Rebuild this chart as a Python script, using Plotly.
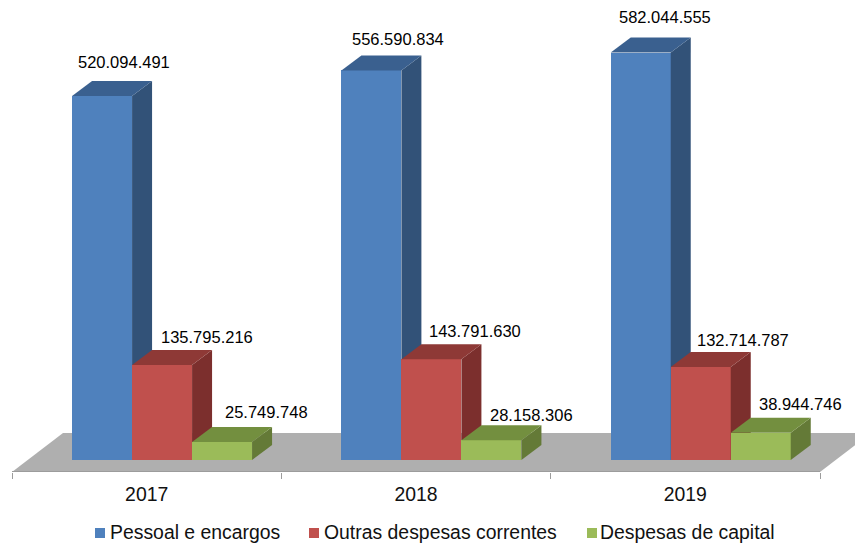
import plotly.graph_objects as go

years = ["2017", "2018", "2019"]
series_names = ["Pessoal e encargos", "Outras despesas correntes", "Despesas de capital"]
pessoal = [520094491, 556590834, 582044555]
outras = [135795216, 143791630, 132714787]
capital = [25749748, 28158306, 38944746]
labels_pessoal = ["520.094.491", "556.590.834", "582.044.555"]
labels_outras = ["135.795.216", "143.791.630", "132.714.787"]
labels_capital = ["25.749.748", "28.158.306", "38.944.746"]

front_colors = ["#4F81BD", "#C0504D", "#9BBB59"]
side_colors = ["#325278", "#7C2F2D", "#647A37"]
top_colors = ["#3A608F", "#8E3936", "#738F3F"]

W, H = 855, 543
PX_X = 269.3            # pixels per category
PX_Y = 0.7 / 1e6        # pixels per unit of value
left_px, right_px = 12, 820
plot_bottom = 472
baseline_px = 460
bar_w = 60 / PX_X
bar_offsets = [-44.6 / PX_X, 15.4 / PX_X, 75.4 / PX_X]
dx = 20 / PX_X
dy = 15 / PX_Y
x_min = -0.5 - left_px / PX_X
x_max = 2.5 + (W - right_px) / PX_X
y_min = -(plot_bottom - baseline_px) / PX_Y
y_max = baseline_px / PX_Y

# per-label shift in pixels from the rear top corner of each bar
label_dx = [[1.6, 6.6, 4.6], [24.6, 23.6, 22.1], [24.1, 20.1, 20.1]]
label_dy = [[19, 16, 21], [13, 13, 12], [15, 10, 14]]

# legend layout, in pixels of the page
legend_swatch_x = [95, 309, 587]
legend_text_x = [107.5, 321.5, 597.5]
legend_y = 532
swatch = 10

fig = go.Figure()
all_values = [pessoal, outras, capital]
all_labels = [labels_pessoal, labels_outras, labels_capital]
for s, (name, vals) in enumerate(zip(series_names, all_values)):
    xs = [i + bar_offsets[s] for i in range(len(years))]
    fig.add_bar(x=xs, y=vals, width=bar_w, name=name, marker_color=front_colors[s],
                marker_line_width=0, zorder=s + 1, hoverinfo="y", showlegend=False)
    for x, v in zip(xs, vals):
        xl, xr = x - bar_w / 2, x + bar_w / 2
        fig.add_scatter(x=[xr, xr + dx, xr + dx, xr, xr], y=[0, dy, v + dy, v, 0], fill="toself",
                        mode="lines", line=dict(width=0), fillcolor=side_colors[s],
                        showlegend=False, hoverinfo="skip", zorder=s + 1)
        fig.add_scatter(x=[xl, xl + dx, xr + dx, xr, xl], y=[v, v + dy, v + dy, v, v], fill="toself",
                        mode="lines", line=dict(width=0), fillcolor=top_colors[s],
                        showlegend=False, hoverinfo="skip", zorder=s + 1)
    for i, (x, v, t) in enumerate(zip(xs, vals, all_labels[s])):
        fig.add_annotation(x=x + dx, y=v + dy, text=t, showarrow=False,
                           xshift=label_dx[s][i], yshift=label_dy[s][i],
                           font=dict(family="Liberation Sans", size=16.5, color="#000000"))
    # legend entry
    to_py = lambda py: (plot_bottom - py) / plot_bottom
    fig.add_shape(type="rect", xref="paper", yref="paper", line_width=0, fillcolor=front_colors[s],
                  x0=legend_swatch_x[s] / W, x1=(legend_swatch_x[s] + swatch) / W,
                  y0=to_py(legend_y + 1 + swatch / 2), y1=to_py(legend_y + 1 - swatch / 2))
    fig.add_annotation(xref="paper", yref="paper", x=legend_text_x[s] / W, y=to_py(legend_y),
                       xanchor="left", yanchor="middle", text=name, showarrow=False,
                       font=dict(family="Liberation Sans", size=19.4, color="#111111"))

# floor
depth_x = 51 / PX_X
depth_y = 39 / PX_Y
fx0, fx1 = -0.5, 2.5
fig.add_shape(type="path", layer="below", line_width=0, fillcolor="#AFAFAF",
              path=f"M {fx0} {y_min} L {fx0 + depth_x} {y_min + depth_y} L {fx1 + depth_x} {y_min + depth_y} L {fx1} {y_min} Z")
fig.add_shape(type="line", layer="below", x0=fx0, x1=fx1, y0=y_min, y1=y_min,
              line=dict(color="#9C9C9C", width=2))

fig.update_layout(
    width=W, height=H, autosize=False, paper_bgcolor="white", plot_bgcolor="white",
    margin=dict(l=0, r=0, t=0, b=H - plot_bottom),
    barmode="overlay", bargap=0, showlegend=False,
    font=dict(family="Liberation Sans", color="#111111"),
    xaxis=dict(range=[x_min, x_max], tickmode="array", tickvals=[0, 1, 2], ticktext=years,
               ticks="", showgrid=False, zeroline=False, showline=False,
               tickfont=dict(size=19.4), ticklabelstandoff=9,
               minor=dict(tickmode="array", tickvals=[-0.5, 0.5, 1.5, 2.5], ticks="outside",
                          ticklen=6, tickwidth=1, tickcolor="#9C9C9C", showgrid=False)),
    yaxis=dict(range=[y_min, y_max], visible=False),
)
fig.write_html("out.html", config={"displayModeBar": False},
               post_script="document.body.style.margin='0';")
